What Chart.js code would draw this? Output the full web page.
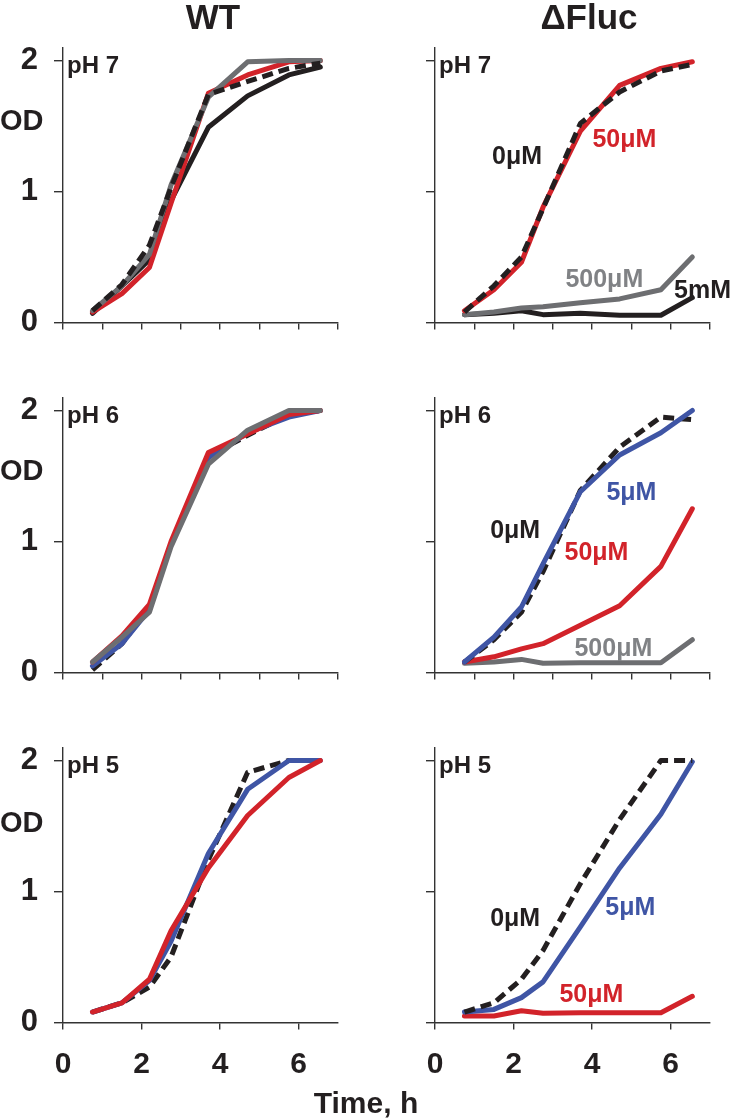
<!DOCTYPE html>
<html>
<head>
<meta charset="utf-8">
<script src="https://cdn.jsdelivr.net/npm/chart.js@4.4.0/dist/chart.umd.min.js"></script>
<style>
  html, body { margin: 0; padding: 0; background: #fff; }
  #wrap { position: relative; width: 732px; height: 1120px; overflow: hidden; font-family: "Liberation Sans", Arial, sans-serif; color: #231f20; }
  canvas { position: absolute; left: 0; top: 0; }
  .t { position: absolute; font-weight: bold; white-space: nowrap; line-height: 1; }
</style>
</head>
<body>
<div id="wrap">
  <canvas id="c0" width="732" height="1120"></canvas>
  <canvas id="c1" width="732" height="1120"></canvas>
  <canvas id="c2" width="732" height="1120"></canvas>
  <canvas id="c3" width="732" height="1120"></canvas>
  <canvas id="c4" width="732" height="1120"></canvas>
  <canvas id="c5" width="732" height="1120"></canvas>
  <div class="t" style="left:150px;top:-1px;width:126px;text-align:center;font-size:35px;">WT</div>
  <div class="t" style="left:509px;top:-1px;width:160px;text-align:center;font-size:35px;">ΔFluc</div>
  <div class="t" style="left:0px;top:106px;font-size:29px;">OD</div>
  <div class="t" style="left:0px;top:456px;font-size:29px;">OD</div>
  <div class="t" style="left:0px;top:808px;font-size:29px;">OD</div>
  <div class="t" style="left:266px;top:1088px;width:200px;text-align:center;font-size:30px;">Time, h</div>
</div>
<script>
// ---- data ----
const times = [0.75, 1.5, 2.2, 2.75, 3.7, 4.7, 5.75, 6.55];
const xTickLabels = [0, 2, 4, 6];
const yTickValues = [0, 1, 2];

// WT pH 7
const wt7_0uM   = [0.09, 0.29, 0.59, 1.03, 1.74, 1.84, 1.94, 1.98];
const wt7_50uM  = [0.08, 0.22, 0.42, 0.91, 1.75, 1.89, 1.99, 2.00];
const wt7_500uM = [0.09, 0.28, 0.52, 1.05, 1.72, 1.99, 2.00, 2.00];
const wt7_5mM   = [0.07, 0.28, 0.48, 0.93, 1.49, 1.73, 1.89, 1.95];
// dFluc pH 7
const df7_0uM   = [0.08, 0.28, 0.50, 0.87, 1.52, 1.76, 1.92, 1.97];
const df7_50uM  = [0.09, 0.25, 0.46, 0.88, 1.46, 1.81, 1.94, 1.99];
const df7_500uM = [0.06, 0.08, 0.11, 0.12, 0.15, 0.18, 0.25, 0.50];
const df7_5mM   = [0.06, 0.07, 0.09, 0.06, 0.07, 0.055, 0.055, 0.19];
// WT pH 6
const wt6_0uM   = [0.02, 0.22, 0.50, 0.98, 1.65, 1.81, 1.97, 2.00];
const wt6_5uM   = [0.05, 0.22, 0.48, 0.98, 1.64, 1.83, 1.95, 2.00];
const wt6_50uM  = [0.08, 0.28, 0.52, 1.00, 1.68, 1.82, 1.97, 2.00];
const wt6_500uM = [0.08, 0.27, 0.46, 0.96, 1.59, 1.85, 2.00, 2.00];
// dFluc pH 6
const df6_0uM   = [0.08, 0.25, 0.46, 0.77, 1.39, 1.72, 1.95, 1.93];
const df6_5uM   = [0.08, 0.27, 0.50, 0.83, 1.38, 1.66, 1.83, 2.00];
const df6_50uM  = [0.08, 0.12, 0.18, 0.22, 0.36, 0.51, 0.81, 1.25];
const df6_500uM = [0.07, 0.08, 0.10, 0.07, 0.075, 0.075, 0.075, 0.25];
// WT pH 5
const wt5_0uM   = [0.08, 0.15, 0.27, 0.50, 1.24, 1.91, 2.00, 2.00];
const wt5_5uM   = [0.08, 0.15, 0.32, 0.62, 1.29, 1.78, 2.00, 2.00];
const wt5_50uM  = [0.08, 0.15, 0.33, 0.70, 1.18, 1.58, 1.87, 2.00];
// dFluc pH 5
const df5_0uM   = [0.08, 0.15, 0.33, 0.55, 1.06, 1.55, 2.00, 2.00];
const df5_5uM   = [0.08, 0.10, 0.19, 0.31, 0.73, 1.18, 1.59, 1.99];
const df5_50uM  = [0.05, 0.05, 0.09, 0.07, 0.075, 0.075, 0.075, 0.20];

// ---- styles ----
const C = { black: '#231f20', red: '#d2232a', blue: '#3f55a5', grey: '#6d6e71', greyText: '#808285', ink: '#231f20' };
const FONT = '"Liberation Sans", Arial, sans-serif';

function pts(ys) { return ys.map((y, i) => ({ x: times[i], y: y })); }
function solid(ys, color) {
  return { data: pts(ys), borderColor: color, borderWidth: 5, borderCapStyle: 'round', borderJoinStyle: 'round', pointRadius: 0, tension: 0, fill: false };
}
function dashed(ys) {
  return { data: pts(ys), borderColor: C.black, borderWidth: 5, borderDash: [11, 6], borderCapStyle: 'butt', borderJoinStyle: 'round', pointRadius: 0, tension: 0, fill: false };
}

const textPlugin = {
  id: 'panelText',
  afterDatasetsDraw(chart, args, opts) {
    const ctx = chart.ctx, xs = chart.scales.x, ys = chart.scales.y;
    ctx.save();
    ctx.fillStyle = C.ink;
    ctx.font = 'bold 24px ' + FONT;
    ctx.textAlign = 'left';
    ctx.textBaseline = 'middle';
    ctx.fillText(opts.ph, chart.chartArea.left + 4, ys.getPixelForValue(2) + 6);
    (opts.labels || []).forEach(l => {
      ctx.fillStyle = l.color;
      ctx.font = 'bold 25px ' + FONT;
      ctx.textAlign = 'center';
      ctx.fillText(l.text, xs.getPixelForValue(l.x), ys.getPixelForValue(l.y));
    });
    ctx.restore();
  }
};

function makeChart(id, col, row, datasets, ph, labels) {
  const chartRight = col === 0 ? 338 : 710;
  const zeroY = [322.5, 672.5, 1022.5][row];
  const top = zeroY - 2.1 * 131;
  const bottomRow = row === 2;
  const xH = 60;
  new Chart(document.getElementById(id), {
    type: 'line',
    data: { datasets: datasets },
    options: {
      responsive: false,
      animation: false,
      devicePixelRatio: 1,
      layout: { padding: { left: col === 0 ? 0 : 366, right: 732 - chartRight, top: top, bottom: 1120 - zeroY - xH } },
      plugins: { legend: { display: false }, tooltip: { enabled: false }, panelText: { ph: ph, labels: labels } },
      scales: {
        x: {
          type: 'linear', min: 0, max: 7,
          afterFit(s) { s.height = xH; },
          afterBuildTicks(s) {
            s.ticks = bottomRow ? xTickLabels.map(v => ({ value: v })) : [0,1,2,3,4,5,6,7].map(v => ({ value: v }));
          },
          border: { display: true, color: '#333', width: 1.4 },
          grid: { drawOnChartArea: false, drawTicks: true, tickLength: 7, color: '#333', lineWidth: 1.4 },
          ticks: { display: bottomRow, color: C.ink, padding: 17, font: { family: FONT, size: 30, weight: 'bold' }, maxRotation: 0 }
        },
        y: {
          type: 'linear', min: 0, max: 2.1,
          afterFit(s) { s.width = col === 0 ? 63 : 69; },
          afterBuildTicks(s) { s.ticks = yTickValues.map(v => ({ value: v })); },
          border: { display: true, color: '#333', width: 1.4 },
          grid: { drawOnChartArea: false, drawTicks: true, tickLength: 9, color: '#333', lineWidth: 1.4 },
          ticks: { display: col === 0, color: C.ink, padding: 16, font: { family: FONT, size: 31, weight: 'bold' } }
        }
      }
    },
    plugins: [textPlugin]
  });
}

makeChart('c0', 0, 0, [dashed(wt7_0uM), solid(wt7_500uM, C.grey), solid(wt7_50uM, C.red), solid(wt7_5mM, C.black)], 'pH 7', []);
makeChart('c1', 1, 0, [dashed(df7_0uM), solid(df7_50uM, C.red), solid(df7_500uM, C.grey), solid(df7_5mM, C.black)], 'pH 7', [
  { text: '0μM', x: 2.09, y: 1.26, color: C.ink },
  { text: '50μM', x: 4.82, y: 1.39, color: C.red },
  { text: '500μM', x: 4.31, y: 0.32, color: C.greyText },
  { text: '5mM', x: 6.81, y: 0.24, color: C.ink }
]);
makeChart('c2', 0, 1, [solid(wt6_500uM, C.grey), solid(wt6_50uM, C.red), solid(wt6_5uM, C.blue), dashed(wt6_0uM)], 'pH 6', []);
makeChart('c3', 1, 1, [solid(df6_5uM, C.blue), dashed(df6_0uM), solid(df6_50uM, C.red), solid(df6_500uM, C.grey)], 'pH 6', [
  { text: '5μM', x: 5.0, y: 1.37, color: C.blue },
  { text: '0μM', x: 2.04, y: 1.08, color: C.ink },
  { text: '50μM', x: 4.11, y: 0.91, color: C.red },
  { text: '500μM', x: 4.54, y: 0.18, color: C.greyText }
]);
makeChart('c4', 0, 2, [solid(wt5_50uM, C.red), solid(wt5_5uM, C.blue), dashed(wt5_0uM)], 'pH 5', []);
makeChart('c5', 1, 2, [dashed(df5_0uM), solid(df5_5uM, C.blue), solid(df5_50uM, C.red)], 'pH 5', [
  { text: '0μM', x: 2.04, y: 0.79, color: C.ink },
  { text: '5μM', x: 4.97, y: 0.87, color: C.blue },
  { text: '50μM', x: 3.98, y: 0.21, color: C.red }
]);
</script>
</body>
</html>
